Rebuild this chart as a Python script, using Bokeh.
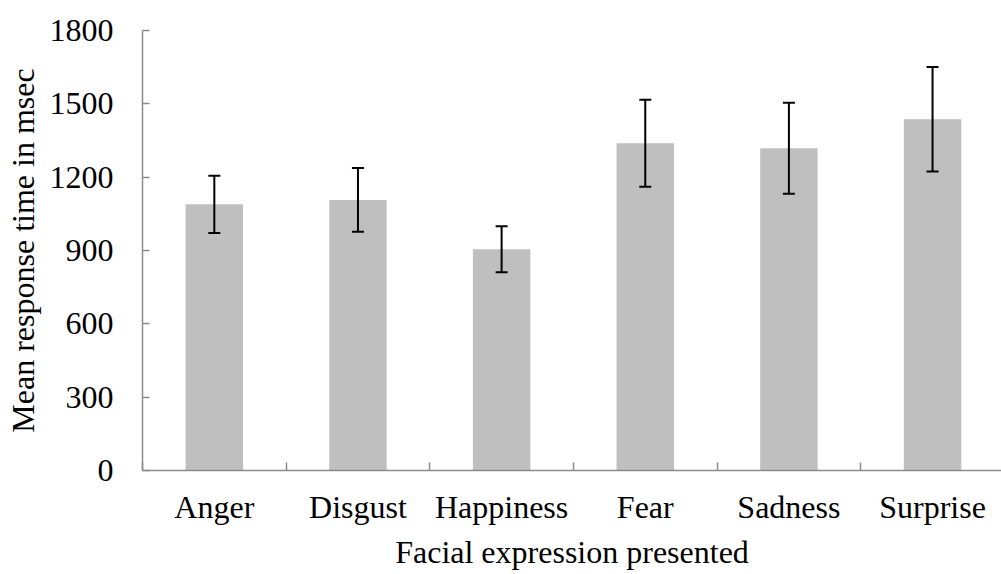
from bokeh.plotting import figure
from bokeh.models import ColumnDataSource, Range1d, FixedTicker, Whisker, TeeHead
from bokeh.embed import file_html
from bokeh.resources import INLINE

categories = ["Anger", "Disgust", "Happiness", "Fear", "Sadness", "Surprise"]
means = [1089, 1107, 905, 1339, 1318, 1437]
errors = [117, 130, 94, 178, 186, 214]
y_ticks = [0, 300, 600, 900, 1200, 1500, 1800]

xs = [i + 0.5 for i in range(len(categories))]
src = ColumnDataSource(dict(
    x=xs, top=means,
    upper=[m + e for m, e in zip(means, errors)],
    lower=[m - e for m, e in zip(means, errors)],
))

FONT = "Liberation Serif"
AXIS_COL = "#8C8C8C"

p = figure(width=1001, height=574, output_backend="svg", toolbar_location=None,
           x_range=Range1d(0, 5.98), y_range=Range1d(0, 1800),
           min_border_left=142, min_border_right=0, min_border_top=30, min_border_bottom=104)
p.outline_line_color = None
p.grid.grid_line_color = None
p.background_fill_color = "white"

p.vbar(x="x", top="top", width=0.4, bottom=0, source=src,
       fill_color="#BFBFBF", line_color=None)

w = Whisker(base="x", upper="upper", lower="lower", source=src,
            line_color="black", line_width=2, level="overlay",
            upper_head=TeeHead(size=12, line_color="black", line_width=2),
            lower_head=TeeHead(size=12, line_color="black", line_width=2))
p.add_layout(w)

# x axis
p.xaxis.ticker = FixedTicker(ticks=xs, minor_ticks=list(range(len(categories) + 1)))
p.xaxis.major_label_overrides = {x: c for x, c in zip(xs, categories)}
p.xaxis.major_tick_line_color = None
p.xaxis.minor_tick_line_color = AXIS_COL
p.xaxis.minor_tick_line_width = 1.5
p.xaxis.minor_tick_in = 8
p.xaxis.minor_tick_out = 0
p.xaxis.axis_label = "Facial expression presented"
p.xaxis.major_label_standoff = 12
p.xaxis.axis_label_standoff = 6

# y axis
p.yaxis.ticker = FixedTicker(ticks=y_ticks)
p.yaxis.major_tick_in = 7
p.yaxis.major_tick_out = 0
p.yaxis.minor_tick_line_color = None
p.yaxis.major_tick_line_color = AXIS_COL
p.yaxis.major_tick_line_width = 1.5
p.yaxis.axis_label = "Mean response time in msec"
p.yaxis.major_label_standoff = 29
p.yaxis.axis_label_standoff = 6

for ax in (p.xaxis[0], p.yaxis[0]):
    ax.axis_line_color = AXIS_COL
    ax.axis_line_width = 1.5
    ax.major_label_text_font = FONT
    ax.major_label_text_font_size = "32px"
    ax.major_label_text_color = "black"
    ax.axis_label_text_font = FONT
    ax.axis_label_text_font_size = "32px"
    ax.axis_label_text_font_style = "normal"
    ax.axis_label_text_color = "black"

open("out.html", "w").write(file_html(p, INLINE))
